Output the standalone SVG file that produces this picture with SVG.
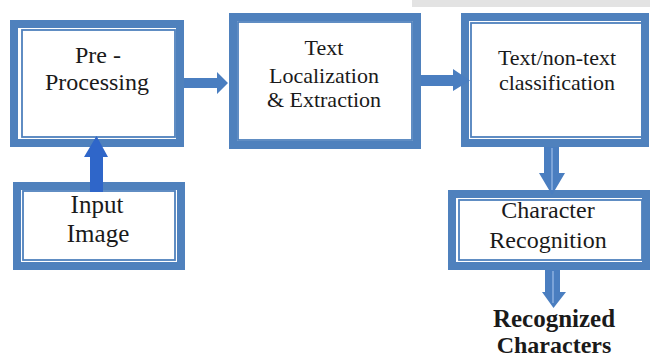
<svg xmlns="http://www.w3.org/2000/svg" width="650" height="358" viewBox="0 0 650 358">
<style>
.outer{fill:#fff;stroke:#4f81bd;stroke-width:8}
.inner{fill:none;stroke:#4f81bd;stroke-width:1.8}
.t{fill:#1a1a1a;text-anchor:middle}
.arr{fill:#4a7ec0}
.up{fill:#2f66c9}
.hl{stroke:#8db0e0;stroke-width:1.5;fill:none}
</style>
<rect x="0" y="0" width="650" height="358" fill="#fff"/>
<rect x="412" y="0" width="238" height="7" fill="#dcdcdc" opacity="0.8"/>
<g font-family="Liberation Serif, Tinos, Times New Roman, Times, DejaVu Serif, Noto Serif, serif">
<g id="preprocessing">
<rect class="outer" x="14" y="24" width="166" height="119"/>
<rect class="inner" x="22" y="30" width="153" height="107"/>
<text class="t" x="98" y="63" font-size="24">Pre -</text>
<text class="t" x="97" y="90" font-size="24">Processing</text>
</g>
<g id="localization">
<rect class="outer" x="233" y="17" width="184" height="128"/>
<rect class="inner" x="238" y="22" width="174" height="118"/>
<text class="t" x="324" y="55" font-size="22">Text</text>
<text class="t" x="324" y="83" font-size="22">Localization</text>
<text class="t" x="324" y="107" font-size="22">&amp; Extraction</text>
</g>
<g id="classification">
<rect class="outer" x="465" y="17" width="180" height="126"/>
<rect class="inner" x="471" y="23" width="171" height="114"/>
<text class="t" x="557" y="65" font-size="22">Text/non-text</text>
<text class="t" x="557" y="90" font-size="22">classification</text>
</g>
<g id="input">
<rect class="outer" x="17" y="186" width="164" height="80"/>
<rect class="inner" x="23" y="191" width="152" height="69"/>
<text class="t" x="97" y="213" font-size="25">Input</text>
<text class="t" x="98" y="242" font-size="25">Image</text>
</g>
<g id="recognition">
<rect class="outer" x="452" y="194" width="194" height="72"/>
<rect class="inner" x="459" y="200" width="183" height="60"/>
<text class="t" x="548" y="218" font-size="24">Character</text>
<text class="t" x="548" y="248" font-size="24">Recognition</text>
</g>
<g id="output">
<text class="t" x="554" y="327" font-size="25" font-weight="bold">Recognized</text>
<text class="t" x="554" y="353" font-size="24" font-weight="bold">Characters</text>
</g>
</g>
<g id="connectors">
<polygon class="arr" points="184,78 217,78 217,72 228,83 217,94 217,88 184,88"/>
<polygon class="arr" points="421,75 453,75 453,69 470,80.5 453,91 453,86 421,86"/>
<polygon class="up" points="90,192 90,157 84,157 96.5,136 108,157 103,157 103,192"/>
<polygon class="arr" points="544,147 559,147 559,173 565,173 552,195 539,173 544,173"/>
<line class="hl" x1="552" y1="148" x2="552" y2="190"/>
<polygon class="arr" points="545,270 560,270 560,292 566,292 553.5,308 542,292 545,292"/>
<line class="hl" x1="553" y1="271" x2="553" y2="303"/>
</g>
</svg>
